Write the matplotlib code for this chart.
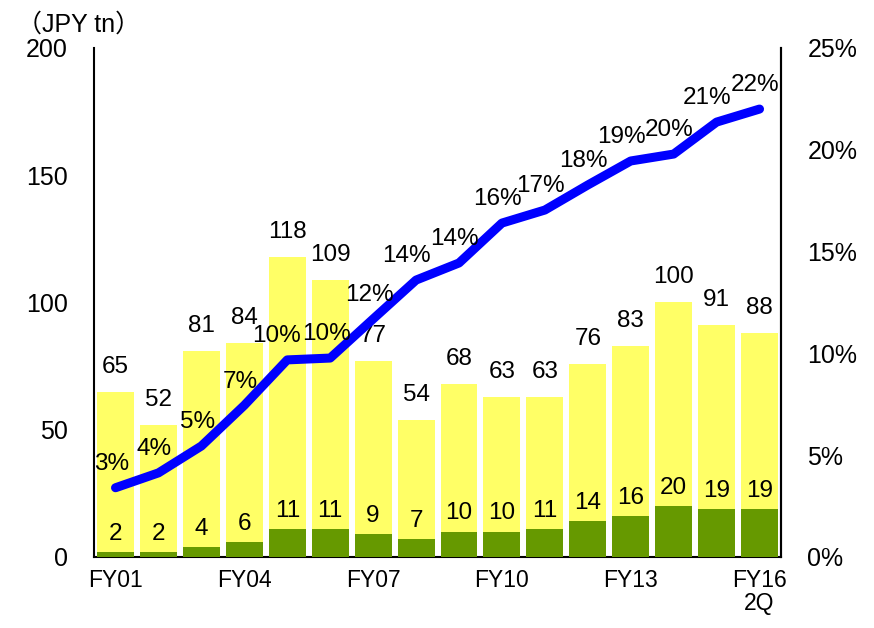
import matplotlib
matplotlib.use("Agg")
import matplotlib.pyplot as plt
from matplotlib.ticker import FuncFormatter
import numpy as np

plt.rcParams['font.family'] = ['Liberation Sans', 'Noto Sans CJK JP', 'DejaVu Sans']

# Fiscal years (labels shown every third year)
periods = ["FY01", "FY02", "FY03", "FY04", "FY05", "FY06", "FY07", "FY08",
           "FY09", "FY10", "FY11", "FY12", "FY13", "FY14", "FY15", "FY16\n2Q"]
shown_ticks = [0, 3, 6, 9, 12, 15]

# Totals (JPY tn) and the portion held by individuals (JPY tn)
total_holdings = [65, 52, 81, 84, 118, 109, 77, 54, 68, 63, 63, 76, 83, 100, 91, 88]
individual_holdings = [2, 2, 4, 6, 11, 11, 9, 7, 10, 10, 11, 14, 16, 20, 19, 19]

# Individuals' share (%)
individual_share = [3.40, 4.13, 5.45, 7.45, 9.68, 9.77, 11.69, 13.6, 14.44,
                    16.4, 17.04, 18.27, 19.45, 19.79, 21.36, 22.0]

FS_DATA = 17.5
FS_Y = 18
FS_X = 16.5
YELLOW = "#FFFF66"
GREEN = "#669900"

fig = plt.figure(figsize=(8.74, 6.28), dpi=100)
ax = fig.add_axes([0.1076, 0.1131, 0.7860, 0.8105])
x = np.arange(len(periods))

ax.bar(x, total_holdings, width=0.86, color=YELLOW, zorder=2)
ax.bar(x, individual_holdings, width=0.86, color=GREEN, zorder=3)

ax.set_xlim(-0.5, len(periods) - 0.5)
ax.set_ylim(0, 200)
ax.set_yticks([0, 50, 100, 150, 200])
ax.set_xticks([x[i] for i in shown_ticks])
ax.set_xticklabels([periods[i] for i in shown_ticks], fontsize=FS_X, linespacing=1.0)
ax.tick_params(axis='both', length=0)
ax.tick_params(axis='y', pad=19, labelsize=FS_Y)
ax.tick_params(axis='x', pad=9)
ax.spines["top"].set_visible(False)
for side in ("left", "bottom", "right"):
    ax.spines[side].set_linewidth(1.5)
    ax.spines[side].set_color("black")

for xi, tot, ind in zip(x, total_holdings, individual_holdings):
    ax.annotate(f"{tot}", (xi, tot), xytext=(0, 18), textcoords="offset points",
                ha="center", va="center", fontsize=FS_DATA, zorder=5)
    ax.annotate(f"{ind}", (xi, ind), xytext=(0, 13), textcoords="offset points",
                ha="center", va="center", fontsize=FS_DATA, zorder=5)

ax2 = ax.twinx()
ax2.set_ylim(0, 25)
ax2.set_yticks([0, 5, 10, 15, 20, 25])
ax2.yaxis.set_major_formatter(FuncFormatter(lambda v, p: f"{v:.0f}%"))
ax2.tick_params(axis='y', length=0, labelsize=FS_Y, pad=19)
ax2.spines["top"].set_visible(False)
ax2.spines["right"].set_linewidth(1.5)
ax2.spines["left"].set_visible(False)
ax2.spines["bottom"].set_visible(False)

ax2.plot(x, individual_share, color="#0000FF", linewidth=6.5,
         solid_capstyle="round", solid_joinstyle="round", zorder=4)

# extra leftward shift (points) for labels that would crowd their right neighbour
label_nudge = {4: -5, 7: -4, 12: -4, 14: -4}
for i, (xi, s) in enumerate(zip(x, individual_share)):
    dx = -3 + label_nudge.get(i, 0)
    ax2.annotate(f"{s:.0f}%", (xi, s), xytext=(dx, 17), textcoords="offset points",
                 ha="center", va="center", fontsize=FS_DATA, zorder=6)

fig.text(17 / 874, 1 - 25 / 628, "（JPY tn）", ha="left", va="center", fontsize=FS_Y,
         family=['Liberation Sans', 'Noto Sans CJK JP'])

fig.savefig("out.png", dpi=100)
